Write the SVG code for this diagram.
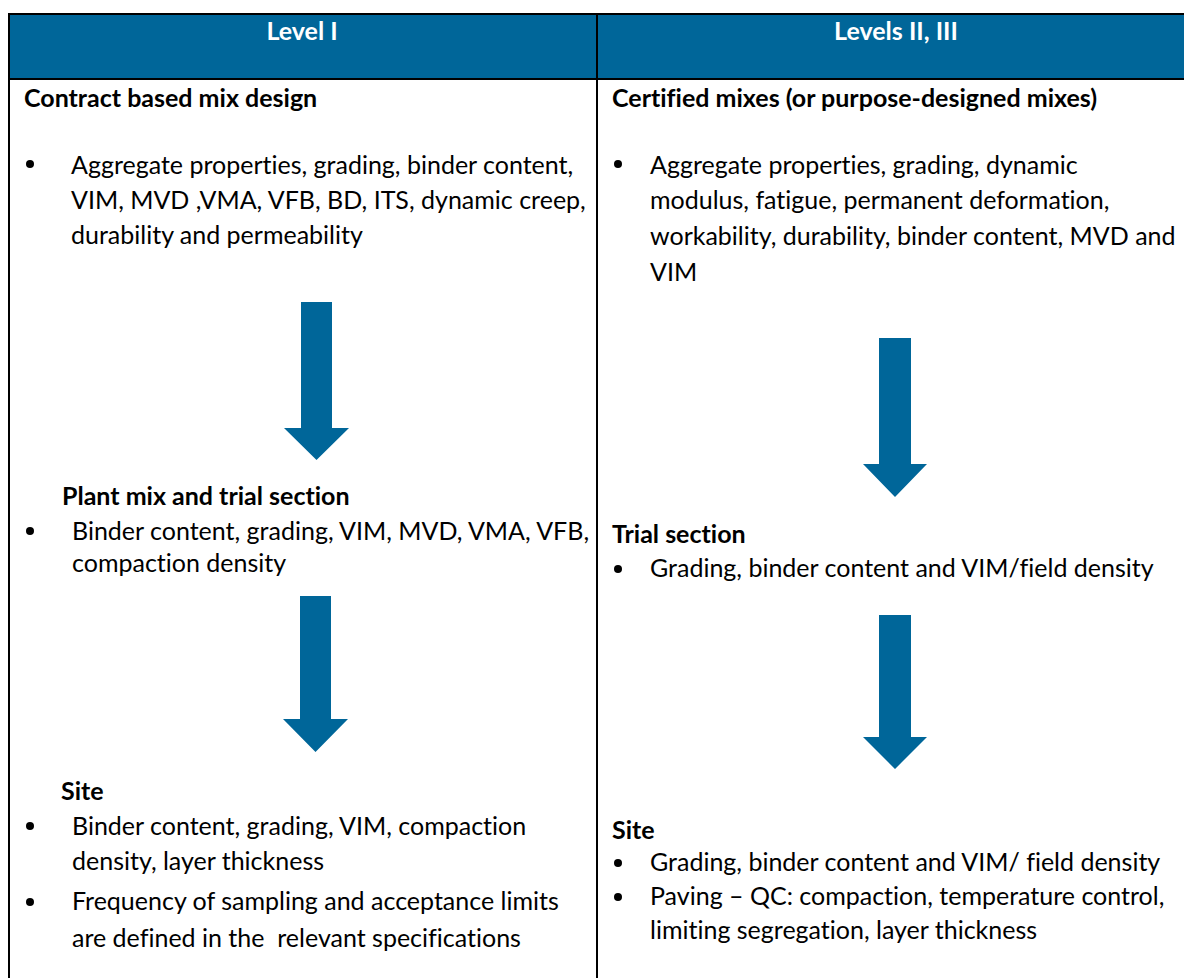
<svg xmlns="http://www.w3.org/2000/svg" width="1184" height="978" viewBox="0 0 1184 978">
<style>
  .t { font-family: Lato, "Open Sans", "Liberation Sans", sans-serif; font-size: 25px; fill: #000; font-variant-ligatures: none; font-feature-settings: "liga" 0; white-space: pre; }
  .b { font-weight: bold; }
  .h { font-family: Lato, "Open Sans", "Liberation Sans", sans-serif; font-size: 25px; font-weight: bold; fill: #fff; text-anchor: middle; }
  .arrow { fill: #006699; }
  .dot { fill: #000; }
  .line { stroke: #000; stroke-width: 2; fill: none; }
</style>
<rect x="0" y="0" width="1184" height="978" fill="#fff"/>
<g id="table">
  <rect x="9" y="14" width="1190" height="65" fill="#006699"/>
  <path class="line" d="M8 14 H1190 M8 79 H1190 M9 13 V978 M597 13 V978"/>
</g>
<g id="header-level1"><text class="h" x="302" y="40">Level I</text></g>
<g id="header-level23"><text class="h" x="896" y="40">Levels II, III</text></g>

<g id="node-contract">
  <text class="t b" x="24" y="107">Contract based mix design</text>
  <circle class="dot" cx="30" cy="164" r="4"/>
  <text class="t" x="71" y="174">Aggregate properties, grading, binder content,</text>
  <text class="t" x="71" y="209">VIM, MVD ,VMA, VFB, BD, ITS, dynamic creep,</text>
  <text class="t" x="71" y="244">durability and permeability</text>
</g>
<g id="node-plant">
  <text class="t b" x="62" y="505">Plant mix and trial section</text>
  <circle class="dot" cx="30" cy="531" r="4"/>
  <text class="t" x="72" y="540">Binder content, grading, VIM, MVD, VMA, VFB,</text>
  <text class="t" x="72" y="572">compaction density</text>
</g>
<g id="node-site1">
  <text class="t b" x="61" y="800">Site</text>
  <circle class="dot" cx="30" cy="826" r="4"/>
  <text class="t" x="72" y="835">Binder content, grading, VIM, compaction</text>
  <text class="t" x="72" y="870">density, layer thickness</text>
  <circle class="dot" cx="30" cy="902" r="4"/>
  <text class="t" x="72" y="910">Frequency of sampling and acceptance limits</text>
  <text class="t" x="72" y="947" xml:space="preserve">are defined in the  relevant specifications</text>
</g>

<g id="node-certified">
  <text class="t b" x="612" y="107">Certified mixes (or purpose-designed mixes)</text>
  <circle class="dot" cx="618" cy="164" r="4"/>
  <text class="t" x="650" y="174">Aggregate properties, grading, dynamic</text>
  <text class="t" x="650" y="209">modulus, fatigue, permanent deformation,</text>
  <text class="t" x="650" y="245">workability, durability, binder content, MVD and</text>
  <text class="t" x="650" y="281">VIM</text>
</g>
<g id="node-trial">
  <text class="t b" x="612" y="543">Trial section</text>
  <circle class="dot" cx="618" cy="569" r="4"/>
  <text class="t" x="650" y="577">Grading, binder content and VIM/field density</text>
</g>
<g id="node-site2">
  <text class="t b" x="612" y="839">Site</text>
  <circle class="dot" cx="618" cy="863" r="4"/>
  <text class="t" x="650" y="871">Grading, binder content and VIM/ field density</text>
  <circle class="dot" cx="618" cy="897" r="4"/>
  <text class="t" x="650" y="905">Paving – QC: compaction, temperature control,</text>
  <text class="t" x="650" y="939">limiting segregation, layer thickness</text>
</g>

<g id="connectors">
  <polygon class="arrow" points="301,302 332,302 332,428 349,428 316.5,460 284,428 301,428"/>
  <polygon class="arrow" points="300,596 331,596 331,719 348,719 315.5,752 283,719 300,719"/>
  <polygon class="arrow" points="879,338 911,338 911,464 927,464 895,497 863,464 879,464"/>
  <polygon class="arrow" points="879,615 911,615 911,737 927,737 895,769 863,737 879,737"/>
</g>
</svg>
